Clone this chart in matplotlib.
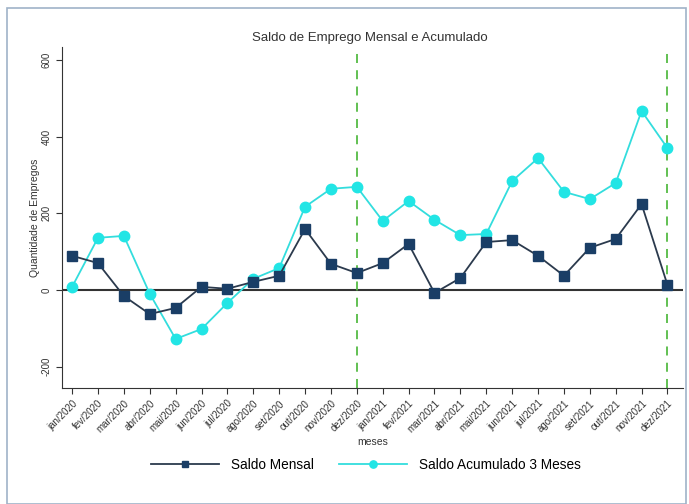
import matplotlib
matplotlib.use("Agg")
import matplotlib.pyplot as plt
from matplotlib.patches import Rectangle

plt.rcParams['font.family'] = ['Liberation Sans', 'DejaVu Sans']

meses = ["jan/2020", "fev/2020", "mar/2020", "abr/2020", "mai/2020", "jun/2020",
         "jul/2020", "ago/2020", "set/2020", "out/2020", "nov/2020", "dez/2020",
         "jan/2021", "fev/2021", "mar/2021", "abr/2021", "mai/2021", "jun/2021",
         "jul/2021", "ago/2021", "set/2021", "out/2021", "nov/2021", "dez/2021"]
saldo_mensal = [89, 70, -16, -63, -47, 8, 3, 21, 37, 159, 68, 44,
                70, 120, -8, 31, 125, 130, 89, 37, 110, 133, 224, 13]
saldo_acum3 = [8, 136, 141, -10, -128, -102, -34, 29, 57, 217, 264, 269,
               180, 232, 183, 143, 146, 284, 344, 256, 237, 279, 467, 370]
marcos = ["dez/2020", "dez/2021"]

fig = plt.figure(figsize=(6.89, 5.04), dpi=100)
fig.patch.set_facecolor("white")
fig.patches.append(Rectangle((7/689, 0.0), 679/689, 1 - 8/504, transform=fig.transFigure,
                             fill=False, edgecolor="#9fb3c8", linewidth=1.2))

ax = fig.add_axes([62/689, 1 - 388/504, 621/689, 341/504])
x = list(range(len(meses)))

ax.axhline(0, color="#333333", linewidth=1.5, zorder=1)
for m in marcos:
    ax.axvline(meses.index(m), color="#55bb44", linestyle=(0, (5, 4)), linewidth=1.3, zorder=1)

ax.plot(x, saldo_mensal, color="#2b3a4d", linewidth=1.3, marker="s", markersize=7,
        markerfacecolor="#1a3e66", markeredgecolor="#1a3e66", label="Saldo Mensal", zorder=3)
ax.plot(x, saldo_acum3, color="#33dddd", linewidth=1.3, marker="o", markersize=7.5,
        markerfacecolor="#22e5e5", markeredgecolor="#22e5e5", label="Saldo Acumulado 3 Meses", zorder=2)

ax.set_xlim(-0.39, 23.6)
ax.set_ylim(-256, 634)
ax.set_yticks([-200, 0, 200, 400, 600])
ax.set_yticklabels(["-200", "0", "200", "400", "600"], rotation=90, va="center", fontsize=7, color="#333333")
ax.set_xticks(x)
ax.set_xticklabels(meses, rotation=45, ha="right", rotation_mode="anchor", fontsize=7, color="#333333")
ax.tick_params(axis="both", length=4, width=0.8, color="#333333")
ax.spines["top"].set_visible(False)
ax.spines["right"].set_visible(False)
ax.spines["left"].set_color("#333333")
ax.spines["bottom"].set_color("#333333")

ax.set_ylabel("Quantidade de Empregos", fontsize=7.5, color="#333333")
ax.yaxis.set_label_coords((40 - 62) / 621, 0.5)
ax.set_xlabel("meses", fontsize=7.5, color="#333333", labelpad=2)
fig.text(370/689, 1 - 38/504, "Saldo de Emprego Mensal e Acumulado", ha="center", va="center",
         fontsize=9.5, color="#333333")

fig.legend(loc="center", bbox_to_anchor=(366/689, 1 - 465/504), ncol=2, frameon=False,
           fontsize=9.8, handlelength=5.0, columnspacing=1.8, handletextpad=0.9, markerscale=0.7)

fig.savefig("out.png", dpi=100, facecolor="white")
